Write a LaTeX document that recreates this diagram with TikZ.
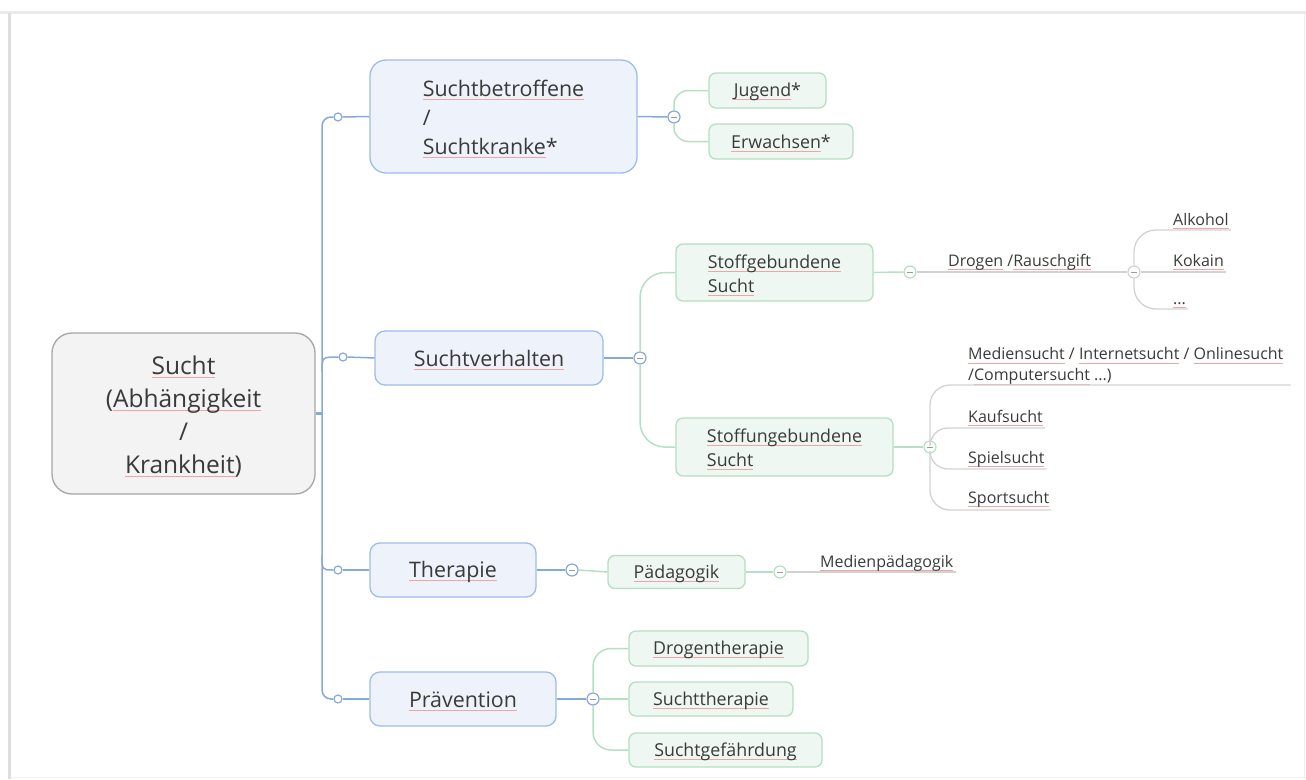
\documentclass[tikz,border=0pt]{standalone}
\usepackage{fontspec}
\setmainfont{Open Sans}
\definecolor{txt}{HTML}{3A3A3A}
\definecolor{bline}{HTML}{86A9DA}
\definecolor{bfill}{HTML}{EEF3FB}
\definecolor{bdraw}{HTML}{9EBDE6}
\definecolor{gline}{HTML}{B5E0C1}
\definecolor{gfill}{HTML}{EEF7F1}
\definecolor{gdraw}{HTML}{B5DFC1}
\definecolor{rfill}{HTML}{F3F3F3}
\definecolor{rdraw}{HTML}{A6A6A6}
\definecolor{lline}{HTML}{D2D2D2}
\definecolor{ulred}{HTML}{F2A3A3}
\definecolor{framec}{HTML}{DEDEDE}
\newcommand\spl[1]{\leavevmode\setbox0=\hbox{#1}\rlap{\textcolor{ulred}{\rule[-3.5pt]{\wd0}{0.9pt}}}\box0\relax}
\newcommand\lo[2][2pt]{\raisebox{-#1}[\height][\depth]{#2}}
\newcommand\fr{\fontsize{24.5}{33}\selectfont}
\newcommand\fb{\fontsize{21.4}{29}\selectfont}
\newcommand\fg{\fontsize{17.8}{24}\selectfont}
\newcommand\fl{\fontsize{16}{21}\selectfont}
\begin{document}
\begin{tikzpicture}[x=1pt,y=-1pt,
  bl/.style={draw=bline, line width=1.5pt},
  gl/.style={draw=gline, line width=1.5pt},
  ll/.style={draw=lline, line width=1.3pt},
  rootn/.style={draw=rdraw, fill=rfill, line width=1.3pt, rounded corners=20pt, text=txt, font=\fr, inner sep=0pt},
  bbox/.style={draw=bdraw, fill=bfill, line width=1.3pt, rounded corners=10pt, text=txt, font=\fb, inner sep=0pt},
  gbox/.style={draw=gdraw, fill=gfill, line width=1.3pt, rounded corners=7pt, text=txt, font=\fg, inner sep=0pt},
  leaf/.style={anchor=base west, inner sep=0pt, text=txt, font=\fl},
  cnode/.style={circle, fill=white, minimum size=12pt, inner sep=0pt, line width=1.2pt,
    path picture={\draw[draw=gray!80, line width=0.8pt] ([xshift=-3pt]path picture bounding box.center) -- ([xshift=3pt]path picture bounding box.center);}},
  cb/.style={cnode, draw=bline},
  gc/.style={cnode, draw=gline},
  cgray/.style={cnode, draw=lline},
  tdot/.style={circle, draw=bline, fill=white, minimum size=8pt, inner sep=0pt, line width=1.2pt}
]
\useasboundingbox (0,0) rectangle (1306,779);
% frame
\fill[framec!60] (0,11) rectangle (1306,14);
\fill[framec] (8,13) rectangle (11,779);
\draw[framec!50] (1304,14) -- (1304,779);
\draw[framec!40] (11,777.5) -- (1306,777.5);

% root
\node[rootn, minimum width=263pt, minimum height=161pt] (root) at (183.5,413.5)
  {\lo[3.5pt]{\begin{tabular}{@{}c@{}}\spl{Sucht}\\(\spl{Abhängigkeit}\\/\\\spl{Krankheit})\end{tabular}}};

% main branches
\node[bbox, minimum width=267pt, minimum height=113pt, rounded corners=16pt] (b1) at (503.5,116.5)
  {\lo[3.5pt]{\begin{tabular}{@{}l@{}}\spl{Suchtbetroffene}\\/\\\spl{Suchtkranke}*\end{tabular}}};
\node[bbox, minimum width=228pt, minimum height=54pt] (b2) at (489,358) {\lo{\spl{Suchtverhalten}}};
\node[bbox, minimum width=166pt, minimum height=54pt] (b3) at (453,570) {\lo{\spl{Therapie}}};
\node[bbox, minimum width=186pt, minimum height=54pt] (b4) at (463,699) {\lo{\spl{Prävention}}};

% trunk
\node[tdot] (t1) at (338,117) {};
\node[tdot] (t2) at (343,357) {};
\node[tdot] (t3) at (338,570) {};
\node[tdot] (t4) at (338,699) {};
\coordinate (k0) at (322,413.5);
\coordinate (k1) at (322,117);
\coordinate (k2) at (322,372);
\coordinate (k3) at (322,555);
\coordinate (k4) at (322,699);
\draw[bl, rounded corners=9pt] (t1.west) -- (k1) -- (k4) -- (t4.west);
\draw[bl] (k2) .. controls (322,357) .. (t2.west);
\draw[bl] (k3) .. controls (322,570) .. (t3.west);
\draw[bl, line width=2.5pt] (root.east) -- (k0);
\draw[bl] (t1.east) -- (b1.west);
\draw[bl] (t2.east) -- (b2.west);
\draw[bl] (t3.east) -- (b3.west);
\draw[bl] (t4.east) -- (b4.west);

% collapse circles of main branches
\node[cb] (c1) at (674,117) {};
\node[cb] (c2) at (640,358) {};
\node[cb] (c3) at (572,570) {};
\node[cb] (c4) at (593,699) {};
\draw[bl] (b1.east) -- (c1.west);
\draw[bl] (b2.east) -- (c2.west);
\draw[bl] (b3.east) -- (c3.west);
\draw[bl] (b4.east) -- (c4.west);

% Suchtbetroffene children
\node[gbox, minimum width=117pt, minimum height=35pt] (jug) at (767.5,90.5) {\lo[1.5pt]{\spl{Jugend}*}};
\node[gbox, minimum width=144pt, minimum height=35pt] (erw) at (781,141.5) {\lo[1.5pt]{\spl{Erwachsen}*}};
\draw[gl, rounded corners=14pt] (c1.north) |- (jug.west);
\draw[gl, rounded corners=14pt] (c1.south) |- (erw.west);

% Suchtverhalten children
\node[gbox, minimum width=197pt, minimum height=57pt] (sg) at (774.5,272.5)
  {\lo[3pt]{\begin{tabular}{@{}l@{}}\spl{Stoffgebundene}\\\spl{Sucht}\end{tabular}}};
\node[gbox, minimum width=217pt, minimum height=58pt] (su) at (784.5,447)
  {\lo[3pt]{\begin{tabular}{@{}l@{}}\spl{Stoffungebundene}\\\spl{Sucht}\end{tabular}}};
\draw[gl, rounded corners=25pt] (c2.north) |- (sg.west);
\draw[gl, rounded corners=25pt] (c2.south) |- (su.west);

% Stoffgebundene
\node[gc] (c5) at (910,272) {};
\node[cgray] (c7) at (1134,272) {};
\draw[gl] (sg.east) -- (c5.west);
\draw[ll] (c5.east) -- (c7.west);
\node[leaf] (drog) at (948,266) {\spl{Drogen} /\spl{Rauschgift}};
\node[leaf] (alk) at (1173,225) {\spl{Alkohol}};
\node[leaf] (kok) at (1173,266) {\spl{Kokain}};
\node[leaf] (dots) at (1173,304) {\spl{...}};
\draw[ll, rounded corners=22pt] (c7.north) |- ([xshift=2pt,yshift=-5pt]alk.base east);
\draw[ll] (c7.east) -- ([xshift=2pt,yshift=-6pt]kok.base east);
\draw[ll, rounded corners=22pt] (c7.south) |- ([xshift=2pt,yshift=-5pt]dots.base east);

% Stoffungebundene
\node[gc] (c6) at (930,447) {};
\draw[gl] (su.east) -- (c6.west);
\node[leaf, align=left, anchor=south west] (med) at (968,385)
  {\spl{Mediensucht} / \spl{Internetsucht} / \spl{Onlinesucht}\\/\spl{Computersucht} ...)};
\node[leaf] (kauf) at (968,422) {\spl{Kaufsucht}};
\node[leaf] (spiel) at (968,463) {\spl{Spielsucht}};
\node[leaf] (sport) at (968,503) {\spl{Sportsucht}};
\draw[ll, rounded corners=20pt] (c6.north) |- ([xshift=7pt]med.south east);
\draw[ll, rounded corners=18pt] (c6.north) |- ([xshift=2pt,yshift=-6pt]kauf.base east);
\draw[ll, rounded corners=18pt] (c6.south) |- ([xshift=2pt,yshift=-6pt]spiel.base east);
\draw[ll, rounded corners=20pt] (c6.south) |- ([xshift=2pt,yshift=-7pt]sport.base east);

% Therapie
\node[gbox, minimum width=137pt, minimum height=33pt] (pad) at (676.5,572) {\lo[1.5pt]{\spl{Pädagogik}}};
\draw[gl] (c3.east) -- (pad.west);
\node[gc] (c8) at (780,572) {};
\draw[gl] (pad.east) -- (c8.west);
\node[leaf] (medp) at (820,567) {\spl{Medienpädagogik}};
\draw[ll] (c8.east) -- ([xshift=2pt,yshift=-5pt]medp.base east);

% Praevention
\node[gbox, minimum width=179pt, minimum height=35pt] (dt) at (718.5,648.5) {\lo[1.5pt]{\spl{Drogentherapie}}};
\node[gbox, minimum width=164pt, minimum height=34pt] (st) at (711,699) {\lo[1.5pt]{\spl{Suchttherapie}}};
\node[gbox, minimum width=193pt, minimum height=34pt] (sgf) at (725.5,750) {\lo[1.5pt]{\spl{Suchtgefährdung}}};
\draw[gl, rounded corners=18pt] (c4.north) |- (dt.west);
\draw[gl] (c4.east) -- (st.west);
\draw[gl, rounded corners=18pt] (c4.south) |- (sgf.west);
\end{tikzpicture}
\end{document}
